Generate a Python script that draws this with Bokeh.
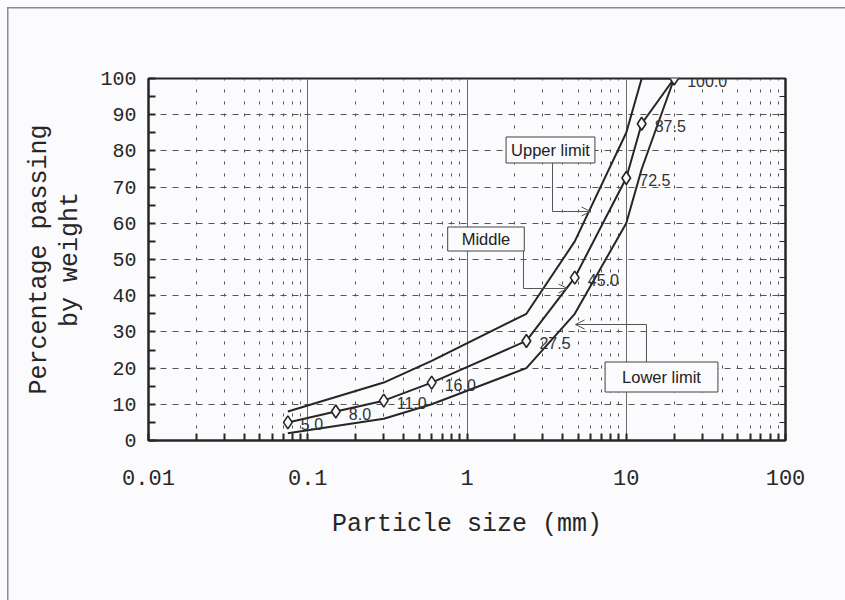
from bokeh.plotting import figure
from bokeh.models import (Range1d, FixedTicker, LinearAxis, Label, Arrow, OpenHead,
                          ColumnDataSource)
from bokeh.core.properties import value
from bokeh.embed import file_html
from bokeh.resources import INLINE

# ---- data ----
sieve_mm = [0.075, 0.15, 0.3, 0.6, 2.36, 4.75, 10, 12.5, 20]
upper_limit = [8, 12, 16, 22, 35, 55, 85, 100, 100]
middle = [5, 8, 11, 16, 27.5, 45, 72.5, 87.5, 100]
lower_limit = [2, 4, 6, 10, 20, 35, 60, 75, 100]
middle_labels = ["5.0", "8.0", "11.0", "16.0", "27.5", "45.0", "72.5", "87.5", "100.0"]

x_ticks = [0.01, 0.1, 1, 10, 100]
x_tick_labels = ["0.01", "0.1", "1", "10", "100"]
y_ticks = list(range(0, 101, 10))

# callout boxes: (text, x, y) and connectors
callouts = [("Upper limit", 3.344, 80.25), ("Middle", 1.316, 55.66), ("Lower limit", 16.65, 17.54)]
callout_pad = [(5, 4), (14, 3), (17, 6)]  # (horizontal, vertical)
conn_x = [3.443, 2.263, 13.40]
conn_y0 = [76.8, 52.5, 21.55]
conn_y1 = [63.26, 41.99, 32.04]
conn_xend = [5.964, 4.277, 4.80]

BG = "#fbfafc"
INK = "#262626"
MONO = "Liberation Mono"
SANS = "Liberation Sans"

p = figure(width=845, height=600, x_axis_type="log", output_backend="svg",
           toolbar_location=None, x_range=Range1d(0.01, 100), y_range=Range1d(0, 100),
           min_border_left=148, min_border_right=60, min_border_top=78, min_border_bottom=160)
p.background_fill_color = BG
p.border_fill_alpha = 0
p.styles = {
    "background": ("linear-gradient(#8a8a8a, #8a8a8a) 7px 7px / 1.5px 100% no-repeat, "
                   "linear-gradient(#8a8a8a, #8a8a8a) 7px 7px / 100% 1.5px no-repeat, " + BG)
}
p.outline_line_color = INK
p.outline_line_width = 2

minor_x = [d * k for d in [0.01, 0.1, 1, 10] for k in range(2, 10)]
xt = FixedTicker(ticks=x_ticks, minor_ticks=minor_x)
p.xaxis.ticker = xt
p.xaxis.major_label_overrides = {t: l for t, l in zip(x_ticks, x_tick_labels)}
p.xaxis.major_label_text_font = MONO
p.xaxis.major_label_text_font_size = "22px"
p.xaxis.major_label_text_color = INK
p.xaxis.major_label_standoff = 29
p.xaxis.major_tick_in = 7
p.xaxis.major_tick_out = 0
p.xaxis.minor_tick_in = 7
p.xaxis.minor_tick_out = 0
p.xaxis.axis_line_width = 2
p.xaxis.axis_line_color = INK
p.xaxis.major_tick_line_color = INK
p.xaxis.minor_tick_line_color = INK
p.xaxis.major_tick_line_width = 2
p.xaxis.minor_tick_line_width = 2
p.xaxis.axis_label = "Particle size (mm)"
p.xaxis.axis_label_text_font = MONO
p.xaxis.axis_label_text_font_size = "25px"
p.xaxis.axis_label_text_font_style = "normal"
p.xaxis.axis_label_text_color = INK
p.xaxis.axis_label_standoff = 22

yt = FixedTicker(ticks=y_ticks, minor_ticks=list(range(5, 100, 10)))
p.yaxis.ticker = yt
p.yaxis.major_label_text_font = MONO
p.yaxis.major_label_text_font_size = "20px"
p.yaxis.major_label_text_color = INK
p.yaxis.major_label_standoff = 12
p.yaxis.major_tick_in = 7
p.yaxis.major_tick_out = 0
p.yaxis.minor_tick_in = 7
p.yaxis.minor_tick_out = 0
p.yaxis.axis_line_width = 2
p.yaxis.axis_line_color = INK
p.yaxis.major_tick_line_color = INK
p.yaxis.minor_tick_line_color = INK
p.yaxis.major_tick_line_width = 2
p.yaxis.minor_tick_line_width = 2
p.yaxis.axis_label = "Percentage passing\nby weight"
p.yaxis.axis_label_text_font = MONO
p.yaxis.axis_label_text_font_size = "25px"
p.yaxis.axis_label_text_font_style = "normal"
p.yaxis.axis_label_text_color = INK
p.yaxis.axis_label_text_line_height = 1.1
p.yaxis.axis_label_standoff = 12

ry = LinearAxis(ticker=yt, major_tick_in=6, major_tick_out=0, minor_tick_in=6, minor_tick_out=0,
                major_label_overrides={t: "" for t in y_ticks}, axis_line_width=2,
                axis_line_color=INK, major_tick_line_color=INK, minor_tick_line_color=INK)
p.add_layout(ry, "right")

# grids
p.xgrid.grid_line_color = "#6a6a6a"
p.xgrid.grid_line_width = 1
p.xgrid.minor_grid_line_color = "#555555"
p.xgrid.minor_grid_line_dash = "3 9"
p.xgrid.minor_grid_line_width = 1
p.ygrid.grid_line_color = "#555555"
p.ygrid.grid_line_dash = "6 6"
p.ygrid.grid_line_width = 1

src = ColumnDataSource(dict(x=sieve_mm, up=upper_limit, mid=middle, lo=lower_limit, lab=middle_labels))
p.line("x", "up", source=src, line_color=INK, line_width=2)
p.line("x", "lo", source=src, line_color=INK, line_width=2)
p.line("x", "mid", source=src, line_color=INK, line_width=2)
p.scatter("x", "mid", source=src, marker="diamond", size=13, line_color=INK, line_width=1.6,
          fill_color=BG)
p.text("x", "mid", text="lab", source=src, x_offset=13, y_offset=2, text_font=value(SANS),
       text_font_size="16px", text_color="#333333", text_baseline="middle", text_align="left")

for (t, x, y), pad, cx, cy0, cy1, cxe in zip(callouts, callout_pad, conn_x, conn_y0, conn_y1, conn_xend):
    p.add_layout(Arrow(x_start=cx, y_start=cy0, x_end=cx, y_end=cy1, end=None,
                       line_color="#555555", line_width=1))
    p.add_layout(Arrow(x_start=cx, y_start=cy1, x_end=cxe, y_end=cy1,
                       end=OpenHead(size=9, line_color="#555555", line_width=1),
                       line_color="#555555", line_width=1))
    p.add_layout(Label(x=x, y=y, text=t, text_font=SANS, text_font_size="16.5px",
                       text_color="#222222", text_align="center", text_baseline="middle",
                       background_fill_color=BG, border_line_color="#444444", border_line_width=1,
                       padding=pad))

open("out.html", "w").write(file_html(p, INLINE))
